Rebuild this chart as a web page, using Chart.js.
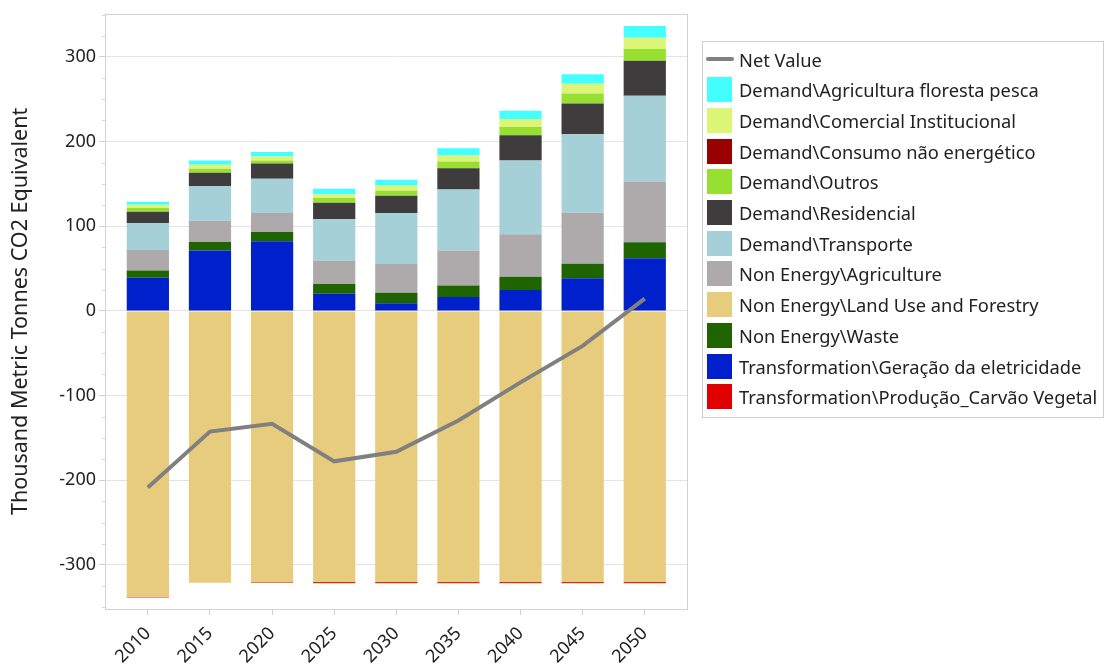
<!DOCTYPE html>
<html>
<head>
<meta charset="utf-8">
<script src="https://cdn.jsdelivr.net/npm/chart.js@4.4.1/dist/chart.umd.min.js"></script>
<style>
  html, body { margin: 0; padding: 0; background: #fff; }
  #wrap { position: relative; width: 1105px; height: 668px; }
  #c { position: absolute; left: 0; top: 0; }
  #legend {
    position: absolute; left: 702px; top: 41px; width: 402px; height: 377px;
    border: 1px solid #cfcfcf; box-sizing: border-box;
    font-family: "Noto Sans", "Open Sans", sans-serif; font-size: 18.3px; color: #222;
  }
  .item { position: absolute; left: 0; height: 26px; display: flex; align-items: center; white-space: nowrap; }
  .sw { width: 25px; height: 25px; margin-left: 4px; margin-right: 7px; box-sizing: border-box; }
  .ln { width: 28px; height: 4px; margin-left: 3px; margin-right: 5px; border-radius: 2px; }
</style>
</head>
<body>
<div id="wrap">
  <canvas id="c" width="1105" height="668"></canvas>
  <div id="legend"></div>
</div>
<script>
const years = [2010, 2015, 2020, 2025, 2030, 2035, 2040, 2045, 2050];
const yTicks = [-300, -200, -100, 0, 100, 200, 300];
const yMinorTicks = [-350, -325, -275, -250, -225, -175, -150, -125, -75, -50, -25, 25, 50, 75, 125, 150, 175, 225, 250, 275, 325, 350];
const netValue = [-208.6, -142.4, -133.3, -177.6, -166.3, -129.4, -84.3, -41.2, 14.5];
const geracaoEletricidade = [39.2, 71.4, 82.4, 20.4, 9.0, 16.5, 24.7, 38.8, 62.4];
const waste = [8.6, 10.2, 11.0, 11.4, 12.5, 13.7, 15.7, 16.9, 18.8];
const agriculture = [24.3, 25.1, 22.4, 27.8, 34.1, 41.2, 50.2, 60.4, 71.8];
const transporte = [31.4, 40.8, 40.4, 48.6, 60.0, 72.2, 87.1, 92.5, 101.2];
const residencial = [13.7, 15.7, 18.0, 19.6, 20.4, 25.1, 29.8, 36.5, 41.2];
const outros = [4.3, 4.7, 3.5, 5.5, 5.9, 7.8, 9.8, 11.8, 14.1];
const comercialInstitucional = [3.9, 4.7, 4.7, 4.7, 6.3, 7.1, 9.4, 11.4, 13.3];
const agriculturaFlorestaPesca = [3.5, 5.1, 5.5, 6.3, 6.7, 8.6, 9.8, 11.4, 13.7];
const consumoNaoEnergetico = [0, 0, 0, 0, 0, 0, 0, 0, 0];
const landUseForestry = [-337.5, -321.0, -320.5, -320.0, -320.0, -320.0, -320.0, -320.0, -320.0];
const producaoCarvaoVegetal = [-1.0, 0, -0.8, -1.6, -1.6, -1.6, -1.6, -1.6, -1.6];

const FONT = '"Noto Sans", "Open Sans", sans-serif';

const barSeries = [
  { label: 'Transformation\\Geração da eletricidade', data: geracaoEletricidade, color: '#0020cc' },
  { label: 'Non Energy\\Waste', data: waste, color: '#1e6400' },
  { label: 'Non Energy\\Agriculture', data: agriculture, color: '#aeaaab' },
  { label: 'Demand\\Transporte', data: transporte, color: '#a6d0d8' },
  { label: 'Demand\\Residencial', data: residencial, color: '#3e3c3d' },
  { label: 'Demand\\Outros', data: outros, color: '#97df30' },
  { label: 'Demand\\Comercial Institucional', data: comercialInstitucional, color: '#dcf577' },
  { label: 'Demand\\Agricultura floresta pesca', data: agriculturaFlorestaPesca, color: '#44ffff' },
  { label: 'Non Energy\\Land Use and Forestry', data: landUseForestry, color: '#e8cc7e' },
  { label: 'Demand\\Consumo não energético', data: consumoNaoEnergetico, color: '#990000' },
  { label: 'Transformation\\Produção_Carvão Vegetal', data: producaoCarvaoVegetal, color: '#d42a1a' }
];

const legendColors = { 'Transformation\\Produção_Carvão Vegetal': '#e00000' };

const legendOrder = [
  'Demand\\Agricultura floresta pesca',
  'Demand\\Comercial Institucional',
  'Demand\\Consumo não energético',
  'Demand\\Outros',
  'Demand\\Residencial',
  'Demand\\Transporte',
  'Non Energy\\Agriculture',
  'Non Energy\\Land Use and Forestry',
  'Non Energy\\Waste',
  'Transformation\\Geração da eletricidade',
  'Transformation\\Produção_Carvão Vegetal'
];

const datasets = [
  {
    type: 'line', label: 'Net Value', data: netValue,
    borderColor: '#808080', backgroundColor: '#808080', borderWidth: 4,
    pointRadius: 0, tension: 0, order: 0, stack: 'net'
  }
].concat(barSeries.map(s => ({
  type: 'bar', label: s.label, data: s.data, backgroundColor: s.color,
  borderWidth: 0, order: 1, stack: 'main',
  categoryPercentage: 1.0, barPercentage: 0.68
})));

const frame = {
  id: 'frame',
  afterDraw(chart) {
    const a = chart.chartArea, ctx = chart.ctx;
    const y = chart.scales.y;
    ctx.save();
    ctx.strokeStyle = '#d2d2d2';
    ctx.lineWidth = 1;
    ctx.strokeRect(Math.round(a.left) + 0.5, Math.round(a.top) + 0.5, Math.round(a.right - a.left), Math.round(a.bottom - a.top));
    ctx.strokeStyle = '#d6d6d6';
    ctx.beginPath();
    yMinorTicks.forEach(v => {
      const py = Math.round(y.getPixelForValue(v)) + 0.5;
      ctx.moveTo(a.left - 3, py);
      ctx.lineTo(a.left, py);
    });
    ctx.stroke();
    ctx.restore();
  }
};

new Chart(document.getElementById('c'), {
  data: { labels: years, datasets },
  options: {
    responsive: false,
    animation: false,
    layout: { padding: { left: 0, right: 418, top: 11, bottom: 0 } },
    plugins: { legend: { display: false }, tooltip: { enabled: false } },
    scales: {
      x: {
        type: 'linear', min: 2006.55, max: 2053.4, offset: false,
        afterBuildTicks: s => { s.ticks = years.map(v => ({ value: v })); },
        afterFit: s => { s.height = 59; },
        grid: { display: true, offset: false, drawOnChartArea: false, drawTicks: true, tickLength: 6, color: '#cfcfcf' },
        border: { display: true, color: '#d2d2d2' },
        ticks: {
          autoSkip: false, maxRotation: 45, minRotation: 45, padding: 8,
          color: '#222', font: { family: FONT, size: 18 },
          callback: v => String(v)
        }
      },
      y: {
        type: 'linear', min: -352, max: 351, stacked: true,
        afterBuildTicks: s => { s.ticks = yTicks.map(v => ({ value: v })); },
        afterFit: s => { s.width = 105; },
        grid: { color: '#e3e3e3', tickColor: '#cfcfcf', tickLength: 6 },
        border: { display: true, color: '#d2d2d2' },
        ticks: { color: '#222', font: { family: FONT, size: 18 }, padding: 3 },
        title: {
          display: true, text: 'Thousand Metric Tonnes CO2 Equivalent',
          color: '#222', font: { family: FONT, size: 21.5 }, padding: { top: 8, bottom: 4 }
        }
      }
    }
  },
  plugins: [frame]
});

// HTML legend built from the series definitions
const leg = document.getElementById('legend');
const pitch = 30.7;
function addItem(i, html) {
  const d = document.createElement('div');
  d.className = 'item';
  d.style.top = (4 + i * pitch) + 'px';
  d.innerHTML = html;
  leg.appendChild(d);
}
addItem(0, '<span class="ln" style="background:#808080"></span><span>Net Value</span>');
legendOrder.forEach((name, i) => {
  const s = barSeries.find(b => b.label === name);
  const col = legendColors[name] || s.color;
  const span = document.createElement('span');
  span.textContent = s.label;
  addItem(i + 1, '<span class="sw" style="background:' + col + '"></span>' + span.outerHTML);
});
</script>
</body>
</html>
